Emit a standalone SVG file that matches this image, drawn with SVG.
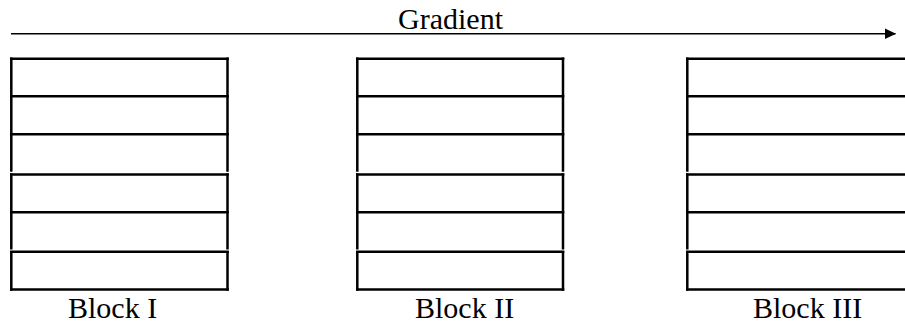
<svg xmlns="http://www.w3.org/2000/svg" width="905" height="324" viewBox="0 0 905 324">
  <style>
    .cell { fill: none; stroke: #000; stroke-width: 2.5; }
    .lbl { font-family: 'Liberation Serif', 'Times New Roman', Times, 'DejaVu Serif', serif; font-size: 30px; fill: #000; }
    .conn { stroke: #000; stroke-width: 1.6; fill: none; }
  </style>
  <defs>
    <marker id="arrow" markerWidth="12" markerHeight="12" refX="11" refY="6" orient="auto" markerUnits="userSpaceOnUse">
      <path d="M0,0.5 L11.5,6 L0,11.5 Z" fill="#000"/>
    </marker>
  </defs>
  <rect width="905" height="324" fill="#fff"/>

  <g id="connectors">
    <line class="conn" x1="11" y1="33.7" x2="895.5" y2="33.7" marker-end="url(#arrow)"/>
    <text class="lbl" font-family="Liberation Serif, serif" x="398" y="29" textLength="105" lengthAdjust="spacingAndGlyphs">Gradient</text>
  </g>

  <g id="block-1">
    <path class="cell" d="M11.3,57.5 V171.7 M11.3,173.3 V249.6 M11.3,251 V290.7 M227.5,57.5 V171.7 M227.5,173.3 V249.6 M227.5,251 V290.7"/>
    <path class="cell" d="M10,58.7 H228.8 M10,96.2 H228.8 M10,134.2 H228.8 M10,174.5 H228.8 M10,212.2 H228.8 M10,251.8 H228.8 M10,289.5 H228.8"/>
    <text class="lbl" font-family="Liberation Serif, serif" x="68" y="318">Block I</text>
  </g>

  <g id="block-2">
    <path class="cell" d="M357.3,57.5 V171.7 M357.3,173.3 V249.6 M357.3,251 V290.7 M563,57.5 V171.7 M563,173.3 V249.6 M563,251 V290.7"/>
    <path class="cell" d="M356,58.7 H564.3 M356,96.2 H564.3 M356,134.2 H564.3 M356,174.5 H564.3 M356,212.2 H564.3 M356,251.8 H564.3 M356,289.5 H564.3"/>
    <text class="lbl" font-family="Liberation Serif, serif" x="415" y="318">Block II</text>
  </g>

  <g id="block-3">
    <path class="cell" d="M687.3,57.5 V171.7 M687.3,173.3 V249.6 M687.3,251 V290.7"/>
    <path class="cell" d="M686,58.7 H906 M686,96.2 H906 M686,134.2 H906 M686,174.5 H906 M686,212.2 H906 M686,251.8 H906 M686,289.5 H906"/>
    <text class="lbl" font-family="Liberation Serif, serif" x="753" y="318">Block III</text>
  </g>
</svg>
